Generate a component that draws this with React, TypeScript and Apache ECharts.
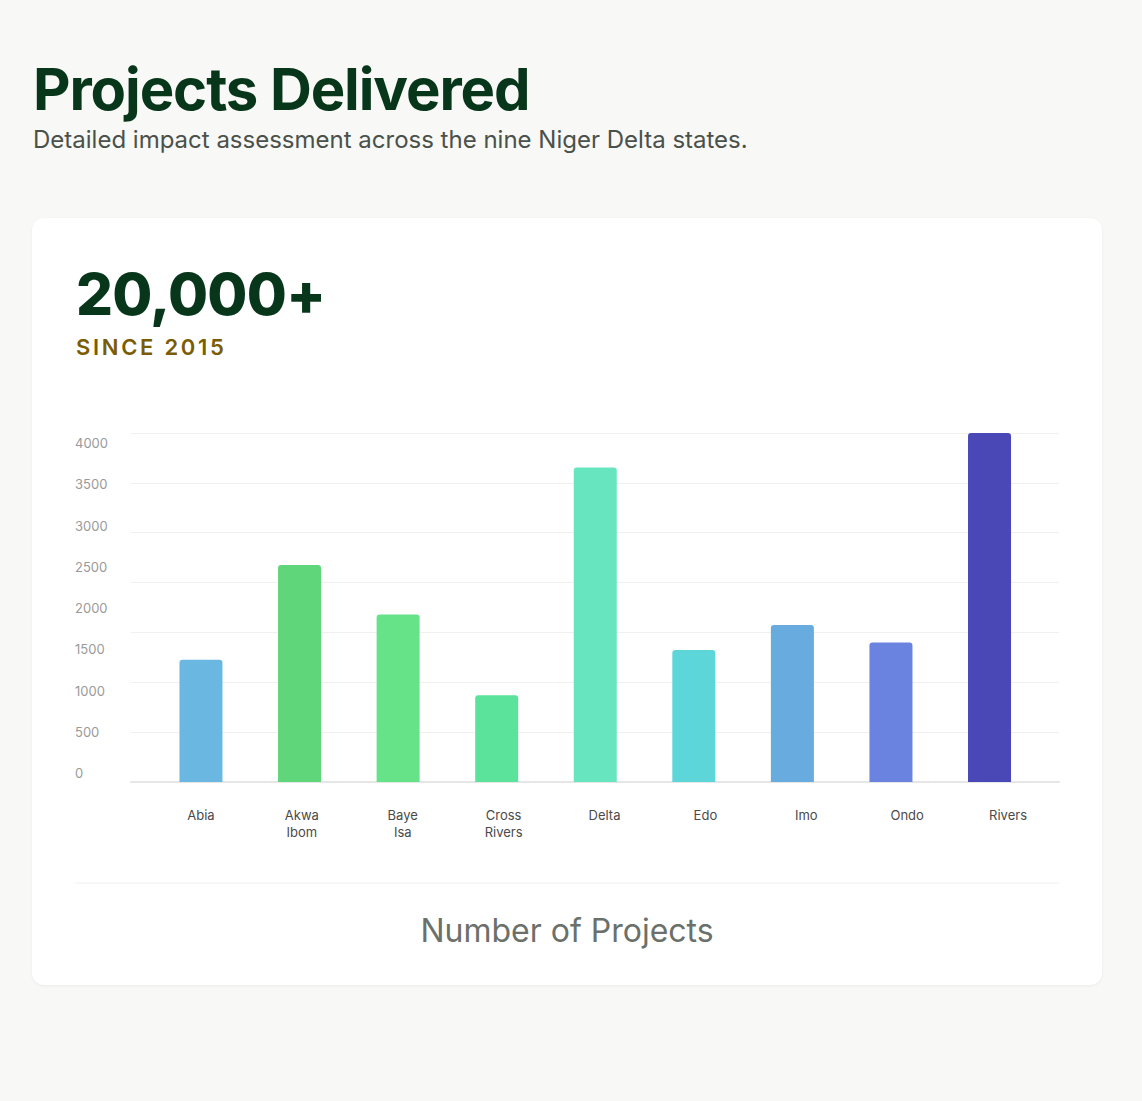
import React, { useEffect, useRef } from "react";
import * as echarts from "echarts";

const categories = ["Abia", "Akwa Ibom", "Baye Isa", "Cross Rivers", "Delta", "Edo", "Imo", "Ondo", "Rivers"];
const projects = [1225, 2175, 1680, 870, 3155, 1325, 1575, 1400, 3500];
const barColors = ["#6AB8E1", "#60D67A", "#66E388", "#5BE39C", "#66E5BF", "#5DD6D9", "#67ABDF", "#6B83E0", "#4A48B7"];
const gridMax = 3500;
const labelMax = 4000;
const tickStep = 500;

const FONT = "Inter, 'Noto Sans', sans-serif";

export default function App() {
  const ref = useRef<HTMLDivElement>(null);

  useEffect(() => {
    document.body.style.margin = "0";
    const chart = echarts.init(ref.current!, null, { renderer: "svg" });
    chart.setOption({
      animation: false,
      backgroundColor: "transparent",
      textStyle: { fontFamily: FONT },
      grid: [
        { left: 119.7, right: 63.2, top: 215, height: 349 },
        { left: 99, right: 43, top: 215, height: 349 },
        { left: 43, top: 225, height: 330, width: 10 },
        { left: 118.5, right: 43.5, top: 215, height: 349 },
      ],
      xAxis: [
        {
          type: "category",
          gridIndex: 0,
          data: categories,
          show: false,
        },
        {
          type: "value",
          gridIndex: 1,
          min: 0,
          max: 1,
          axisLine: { show: true, lineStyle: { color: "#e6e6e6", width: 2 } },
          axisTick: { show: false },
          axisLabel: { show: false },
          splitLine: { show: false },
        },
        { type: "value", gridIndex: 2, show: false, min: 0, max: 1 },
        {
          type: "category",
          gridIndex: 3,
          data: categories,
          axisLine: { show: false },
          axisTick: { show: false },
          splitLine: { show: false },
          axisLabel: {
            formatter: (v: string) => v.replace(" ", "\n"),
            margin: 24,
            lineHeight: 17,
            fontSize: 13,
            color: "#4a4a4a",
            fontFamily: FONT,
            verticalAlign: "top",
          },
        },
      ],
      yAxis: [
        { type: "value", gridIndex: 0, min: 0, max: gridMax, interval: tickStep, show: false },
        {
          type: "value",
          gridIndex: 1,
          min: 0,
          max: gridMax,
          interval: tickStep,
          axisLine: { show: false },
          axisTick: { show: false },
          axisLabel: { show: false },
          splitLine: { show: true, lineStyle: { color: "#f0f0f0", width: 1 } },
        },
        {
          type: "value",
          gridIndex: 2,
          min: 0,
          max: labelMax,
          interval: tickStep,
          axisLine: { show: false },
          axisTick: { show: false },
          splitLine: { show: false },
          axisLabel: {
            align: "left",
            margin: 0,
            fontSize: 13,
            color: "#9a9a9a",
            fontFamily: FONT,
            formatter: (v: number) => String(v),
          },
        },
        { type: "value", gridIndex: 3, min: 0, max: gridMax, show: false },
      ],
      series: [
        {
          type: "bar",
          xAxisIndex: 0,
          yAxisIndex: 0,
          barWidth: 43,
          data: projects.map((v, i) => ({
            value: v,
            itemStyle: { color: barColors[i], borderRadius: [3, 3, 0, 0] },
          })),
        },
      ],
      graphic: [
        {
          type: "line",
          shape: { x1: 43, y1: 665, x2: 1027, y2: 665 },
          style: { stroke: "#f0f0f0", lineWidth: 1 },
        },
        {
          type: "text",
          x: 535,
          y: 712,
          style: {
            text: "Number of Projects",
            fontSize: 32,
            fontFamily: FONT,
            fill: "#6b706b",
            textAlign: "center",
            textVerticalAlign: "middle",
          },
        },
      ],
    });
    return () => chart.dispose();
  }, []);

  return (
    <div style={{ position: "relative", width: 1142, height: 1101, background: "#f8f8f6", fontFamily: FONT, overflow: "hidden" }}>
      <div style={{ position: "absolute", left: 33, top: 60, fontSize: 58, lineHeight: "58px", fontWeight: 700, color: "#07361a", letterSpacing: "-1.1px", whiteSpace: "nowrap" }}>
        Projects Delivered
      </div>
      <div style={{ position: "absolute", left: 33, top: 128, fontSize: 24, lineHeight: "24px", color: "#4a514b", whiteSpace: "nowrap" }}>
        Detailed impact assessment across the nine Niger Delta states.
      </div>
      <div style={{ position: "absolute", left: 32, top: 218, width: 1070, height: 767, background: "#ffffff", borderRadius: 12, boxShadow: "0 1px 3px rgba(0,0,0,0.06)" }} />
      <div style={{ position: "absolute", left: 76, top: 265, fontSize: 58, lineHeight: "58px", fontWeight: 800, color: "#07361a", letterSpacing: "-0.7px", whiteSpace: "nowrap" }}>
        20,000+
      </div>
      <div style={{ position: "absolute", left: 76, top: 336, fontSize: 22, lineHeight: "22px", fontWeight: 600, color: "#7a5c06", letterSpacing: "2.7px", whiteSpace: "nowrap" }}>
        SINCE 2015
      </div>
      <div ref={ref} style={{ position: "absolute", left: 32, top: 218, width: 1070, height: 767 }} />
    </div>
  );
}
